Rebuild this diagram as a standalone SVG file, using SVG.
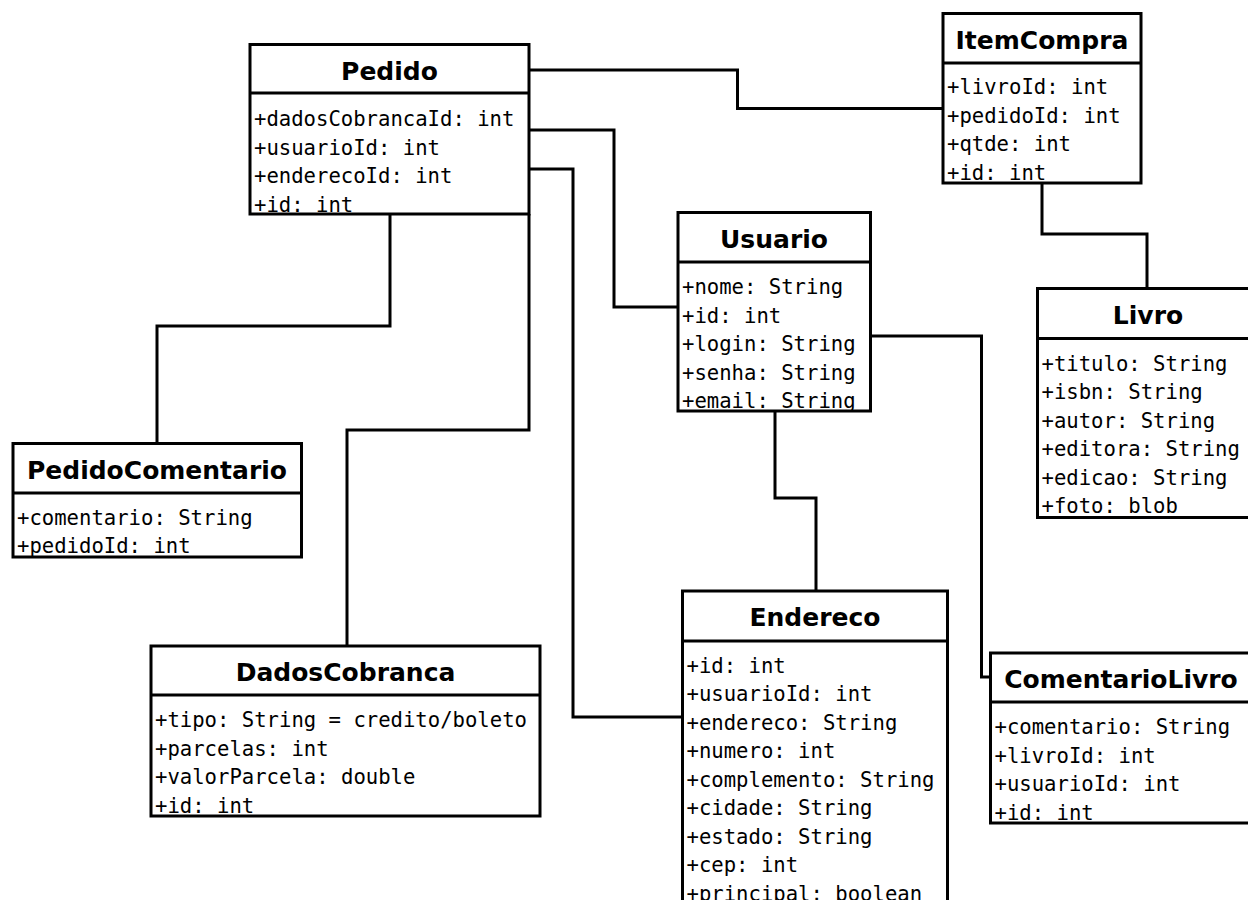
<svg xmlns="http://www.w3.org/2000/svg" width="1248" height="900" viewBox="0 0 1248 900">
<style>
.box{fill:#fff;stroke:none}
.out{fill:none;stroke:#000;stroke-width:3}
.div{stroke:#000;stroke-width:3}
.t{font-family:"DejaVu Sans","Liberation Sans",sans-serif;font-weight:bold;font-size:25px;text-anchor:middle;fill:#000}
.a{font-family:"DejaVu Sans Mono","Liberation Mono",monospace;font-size:20.6px;fill:#000}
.c{fill:none;stroke:#000;stroke-width:3;stroke-linejoin:miter}
</style>
<rect width="1248" height="900" fill="#fff"/>
<g id="connectors">
<path class="c" d="M529,70 H737.5 V108.5 H943"/>
<path class="c" d="M529,130 H614 V307 H678"/>
<path class="c" d="M529,169 H573 V717 H682.5"/>
<path class="c" d="M390,214 V326 H157 V443.5"/>
<path class="c" d="M529,214 V430 H347 V646"/>
<path class="c" d="M1042,183 V234 H1147 V288.5"/>
<path class="c" d="M775,411 V498 H816 V591"/>
<path class="c" d="M870.5,336 H981.5 V677 H990.5"/>
</g>
<g id="Pedido">
<rect class="box" x="250" y="44.5" width="279" height="169.5"/>
<text class="t" x="389.5" y="79.5">Pedido</text>
<text class="a" x="254" y="126">+dadosCobrancaId: int</text>
<text class="a" x="254" y="154.5">+usuarioId: int</text>
<text class="a" x="254" y="183">+enderecoId: int</text>
<text class="a" x="254" y="211.5">+id: int</text>
<rect class="out" x="250" y="44.5" width="279" height="169.5"/>
<line class="div" x1="250" y1="93" x2="529" y2="93"/>
</g>
<g id="ItemCompra">
<rect class="box" x="943" y="13.5" width="198" height="169.5"/>
<text class="t" x="1042" y="48.5">ItemCompra</text>
<text class="a" x="947" y="94">+livroId: int</text>
<text class="a" x="947" y="122.5">+pedidoId: int</text>
<text class="a" x="947" y="151">+qtde: int</text>
<text class="a" x="947" y="179.5">+id: int</text>
<rect class="out" x="943" y="13.5" width="198" height="169.5"/>
<line class="div" x1="943" y1="63" x2="1141" y2="63"/>
</g>
<g id="Usuario">
<rect class="box" x="678" y="212.5" width="192.5" height="198.5"/>
<text class="t" x="774" y="247.5">Usuario</text>
<text class="a" x="682" y="294">+nome: String</text>
<text class="a" x="682" y="322.5">+id: int</text>
<text class="a" x="682" y="351">+login: String</text>
<text class="a" x="682" y="379.5">+senha: String</text>
<text class="a" x="682" y="408">+email: String</text>
<rect class="out" x="678" y="212.5" width="192.5" height="198.5"/>
<line class="div" x1="678" y1="262" x2="870.5" y2="262"/>
</g>
<g id="Livro">
<rect class="box" x="1037.5" y="288.5" width="224.5" height="229"/>
<text class="t" x="1148" y="323.5">Livro</text>
<text class="a" x="1041.5" y="370.5">+titulo: String</text>
<text class="a" x="1041.5" y="399">+isbn: String</text>
<text class="a" x="1041.5" y="427.5">+autor: String</text>
<text class="a" x="1041.5" y="456">+editora: String</text>
<text class="a" x="1041.5" y="484.5">+edicao: String</text>
<text class="a" x="1041.5" y="513">+foto: blob</text>
<rect class="out" x="1037.5" y="288.5" width="224.5" height="229"/>
<line class="div" x1="1037.5" y1="338.5" x2="1262" y2="338.5"/>
</g>
<g id="PedidoComentario">
<rect class="box" x="13" y="443.5" width="288.5" height="113.5"/>
<text class="t" x="157" y="478.5">PedidoComentario</text>
<text class="a" x="17" y="524.5">+comentario: String</text>
<text class="a" x="17" y="553">+pedidoId: int</text>
<rect class="out" x="13" y="443.5" width="288.5" height="113.5"/>
<line class="div" x1="13" y1="493" x2="301.5" y2="493"/>
</g>
<g id="DadosCobranca">
<rect class="box" x="151" y="646" width="389" height="170"/>
<text class="t" x="345.5" y="681">DadosCobranca</text>
<text class="a" x="155" y="727">+tipo: String = credito/boleto</text>
<text class="a" x="155" y="755.5">+parcelas: int</text>
<text class="a" x="155" y="784">+valorParcela: double</text>
<text class="a" x="155" y="812.5">+id: int</text>
<rect class="out" x="151" y="646" width="389" height="170"/>
<line class="div" x1="151" y1="695" x2="540" y2="695"/>
</g>
<g id="Endereco">
<rect class="box" x="682.5" y="591" width="265" height="329"/>
<text class="t" x="815" y="626">Endereco</text>
<text class="a" x="686.5" y="672.5">+id: int</text>
<text class="a" x="686.5" y="701">+usuarioId: int</text>
<text class="a" x="686.5" y="729.5">+endereco: String</text>
<text class="a" x="686.5" y="758">+numero: int</text>
<text class="a" x="686.5" y="786.5">+complemento: String</text>
<text class="a" x="686.5" y="815">+cidade: String</text>
<text class="a" x="686.5" y="843.5">+estado: String</text>
<text class="a" x="686.5" y="872">+cep: int</text>
<text class="a" x="686.5" y="900.5">+principal: boolean</text>
<rect class="out" x="682.5" y="591" width="265" height="329"/>
<line class="div" x1="682.5" y1="641" x2="947.5" y2="641"/>
</g>
<g id="ComentarioLivro">
<rect class="box" x="990.5" y="653" width="271.5" height="170"/>
<text class="t" x="1121" y="688">ComentarioLivro</text>
<text class="a" x="994.5" y="734">+comentario: String</text>
<text class="a" x="994.5" y="762.5">+livroId: int</text>
<text class="a" x="994.5" y="791">+usuarioId: int</text>
<text class="a" x="994.5" y="819.5">+id: int</text>
<rect class="out" x="990.5" y="653" width="271.5" height="170"/>
<line class="div" x1="990.5" y1="702" x2="1262" y2="702"/>
</g>
</svg>
